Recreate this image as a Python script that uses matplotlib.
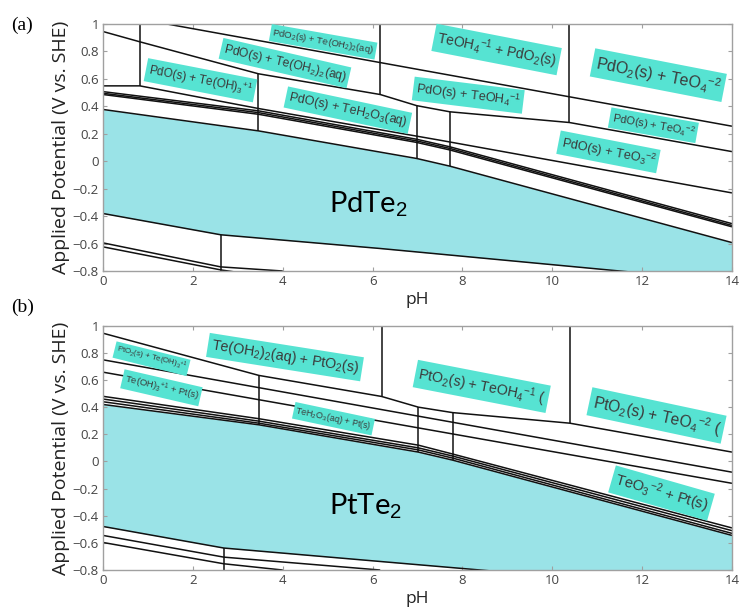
import numpy as np
import matplotlib
matplotlib.use('Agg')
import matplotlib.pyplot as plt
from matplotlib.ticker import FuncFormatter

plt.rcParams['mathtext.fontset'] = 'custom'
plt.rcParams['mathtext.rm'] = 'Liberation Sans'
plt.rcParams['mathtext.it'] = 'Liberation Sans:italic'
plt.rcParams['mathtext.bf'] = 'Liberation Sans:bold'

# ---------------- Panel (a): Pd-Te ----------------
a_l1_ph = [1.42, 14]
a_l1_E = [1.0, 0.255]
a_l2_ph = [0, 0.82, 3.46, 6.17, 6.98, 7.72, 10.38, 14]
a_l2_E = [0.945, 0.87, 0.637, 0.486, 0.405, 0.36, 0.282, 0.07]
a_l3_ph = [0, 0.82, 3.46, 7.5, 14]
a_l3_E = [0.549, 0.549, 0.384, 0.153, -0.231]
a_t_ph = [0, 3.46, 6.98, 7.72, 14]
a_t1_E = [0.507, 0.367, 0.160, 0.105, -0.455]
a_t2_E = [0.495, 0.354, 0.148, 0.093, -0.468]
a_t3_E = [0.486, 0.342, 0.137, 0.082, -0.478]
a_top_ph = [0, 3.46, 6.98, 7.72, 14]
a_top_E = [0.377, 0.221, 0.02, -0.036, -0.593]
a_bot_ph = [0, 2.62, 6.17, 11.5, 14]
a_bot_E = [-0.381, -0.536, -0.636, -0.80, -0.875]
a_b1_ph = [0, 2.62, 4.0]
a_b1_E = [-0.595, -0.77, -0.80]
a_b2_ph = [0, 2.62, 3.0]
a_b2_E = [-0.624, -0.792, -0.81]
a_v_ph = [0.82, 3.46, 6.17, 6.98, 7.72, 10.38, 2.62]
a_v_lo = [0.549, 0.221, 0.486, 0.02, -0.036, 0.282, -0.80]
a_v_hi = [1.0, 0.637, 1.0, 0.405, 0.36, 1.0, -0.536]

# ---------------- Panel (b): Pt-Te ----------------
b_l1_ph = [0, 3.47, 6.2, 7.02, 7.78, 10.39, 14]
b_l1_E = [0.945, 0.634, 0.479, 0.40, 0.36, 0.282, 0.069]
b_l2_ph = [0, 14]
b_l2_E = [0.749, -0.079]
b_l3_ph = [0, 14]
b_l3_E = [0.658, -0.161]
b_t_ph = [0, 3.47, 7.02, 7.78, 14]
b_t1_E = [0.48, 0.315, 0.12, 0.055, -0.49]
b_t2_E = [0.46, 0.297, 0.10, 0.040, -0.51]
b_t3_E = [0.44, 0.282, 0.085, 0.025, -0.53]
b_top_ph = [0, 3.47, 7.02, 7.78, 14]
b_top_E = [0.42, 0.27, 0.069, 0.01, -0.545]
b_bot_ph = [0, 2.69, 6.17, 8.4, 14]
b_bot_E = [-0.479, -0.638, -0.737, -0.80, -0.957]
b_b1_ph = [0, 2.69, 6.17]
b_b1_E = [-0.545, -0.705, -0.80]
b_b2_ph = [0, 2.69, 4.0]
b_b2_E = [-0.597, -0.754, -0.80]
b_v_ph = [3.47, 6.2, 7.02, 7.78, 10.39, 2.69]
b_v_lo = [0.27, 0.479, 0.069, 0.01, 0.282, -0.80]
b_v_hi = [0.634, 1.0, 0.40, 0.36, 1.0, -0.638]

x_ticks = [0, 2, 4, 6, 8, 10, 12, 14]
y_ticks = [-0.8, -0.6, -0.4, -0.2, 0, 0.2, 0.4, 0.6, 0.8, 1]

# region labels: text, pH, E, rotation, fontsize
a_labels = [
    ("PdO$_2$(s) + Te(OH$_2$)$_2$(aq)", 4.9, 0.87, -10, 6.8),
    ("PdO(s) + Te(OH$_2$)$_2$(aq)", 4.05, 0.715, -13, 8.7),
    ("PdO(s) + Te(OH)$_3$$^{+1}$", 2.17, 0.59, -11, 8.5),
    ("PdO(s) + TeH$_2$O$_3$(aq)", 5.45, 0.372, -12, 9.0),
    ("TeOH$_4$$^{-1}$ + PdO$_2$(s)", 8.76, 0.814, -11, 10.0),
    ("PdO(s) + TeOH$_4$$^{-1}$", 8.13, 0.481, -7, 9.1),
    ("PdO$_2$(s) + TeO$_4$$^{-2}$", 12.36, 0.627, -11, 11.4),
    ("PdO(s) + TeO$_4$$^{-2}$", 12.25, 0.262, -10, 7.9),
    ("PdO(s) + TeO$_3$$^{-2}$", 11.25, 0.068, -11, 9.1),
]
b_labels = [
    ("PtO$_2$(s) + Te(OH)$_3$$^{+1}$", 1.08, 0.757, -14, 5.7),
    ("Te(OH)$_3$$^{+1}$ + Pt(s)", 1.3, 0.543, -13, 6.8),
    ("Te(OH$_2$)$_2$(aq) + PtO$_2$(s)", 4.05, 0.769, -9, 10.3),
    ("TeH$_2$O$_3$(aq) + Pt(s)", 5.13, 0.315, -12, 6.4),
    ("PtO$_2$(s) + TeOH$_4$$^{-1}$ (", 8.43, 0.553, -11, 10.2),
    ("PtO$_2$(s) + TeO$_4$$^{-2}$ (", 12.32, 0.339, -12, 11.2),
    ("TeO$_3$$^{-2}$ + Pt(s)", 12.43, -0.233, -16, 10.6),
]

FILL = '#9AE3E7'
BOX = '#56E3D2'
TXT = '#3a3a3a'
GRAY = '#a0a0a0'

fig = plt.figure(figsize=(7.4, 6.13), dpi=100)
ax_a = fig.add_axes([0.1392, 0.5579, 0.85, 0.403])
ax_b = fig.add_axes([0.1392, 0.0701, 0.85, 0.3985])


def fmt(v, pos):
    s = f"{v:g}"
    return s.replace('-', '\u2212')


def draw(ax, top, bot, lines, vph, vlo, vhi, labels, big, big_xy):
    grid = np.linspace(0, 14, 600)
    ax.fill_between(grid, np.interp(grid, *bot), np.interp(grid, *top),
                    color=FILL, lw=0, zorder=1)
    for ph, e in lines + [top, bot]:
        ax.plot(ph, e, color='#111111', lw=1.1, zorder=2, solid_capstyle='butt')
    ax.vlines(vph, vlo, vhi, color='#111111', lw=1.1, zorder=2)
    for t, x, y, r, s in labels:
        ax.text(x, y, t, rotation=r, rotation_mode='anchor', ha='center', va='center',
                fontsize=s, color=TXT, family='Liberation Sans', zorder=4,
                bbox=dict(boxstyle='square,pad=0.22', fc=BOX, ec='none'))
    ax.text(big_xy[0], big_xy[1], big, fontsize=21, family='Lato', color='black',
            ha='center', va='center', zorder=4)
    ax.set_xlim(0, 14)
    ax.set_ylim(-0.8, 1.0)
    ax.set_xticks(x_ticks)
    ax.set_yticks(y_ticks)
    ax.xaxis.set_major_formatter(FuncFormatter(fmt))
    ax.yaxis.set_major_formatter(FuncFormatter(fmt))
    ax.tick_params(direction='in', length=3, color=GRAY, top=True, right=True,
                   labelsize=9.5, labelcolor='#444444', pad=3)
    for lab in ax.get_xticklabels() + ax.get_yticklabels():
        lab.set_family('Open Sans')
    for sp in ax.spines.values():
        sp.set_color(GRAY)
        sp.set_linewidth(1.0)
    ax.set_xlabel('pH', fontsize=12.5, family='Open Sans', color='#222222', labelpad=3)
    ax.set_ylabel('Applied Potential (V vs. SHE)', fontsize=14, family='Open Sans',
                  color='#222222', labelpad=2)


draw(ax_a, (a_top_ph, a_top_E), (a_bot_ph, a_bot_E),
     [(a_l1_ph, a_l1_E), (a_l2_ph, a_l2_E), (a_l3_ph, a_l3_E),
      (a_t_ph, a_t1_E), (a_t_ph, a_t2_E), (a_t_ph, a_t3_E),
      (a_b1_ph, a_b1_E), (a_b2_ph, a_b2_E)],
     a_v_ph, a_v_lo, a_v_hi, a_labels, 'PdTe$_2$', (5.9, -0.31))

draw(ax_b, (b_top_ph, b_top_E), (b_bot_ph, b_bot_E),
     [(b_l1_ph, b_l1_E), (b_l2_ph, b_l2_E), (b_l3_ph, b_l3_E),
      (b_t_ph, b_t1_E), (b_t_ph, b_t2_E), (b_t_ph, b_t3_E),
      (b_b1_ph, b_b1_E), (b_b2_ph, b_b2_E)],
     b_v_ph, b_v_lo, b_v_hi, b_labels, 'PtTe$_2$', (5.85, -0.33))

fig.text(22 / 740, 1 - 25 / 613, '(a)', fontsize=14, family='Liberation Serif',
         ha='center', va='center')
fig.text(23 / 740, 1 - 307 / 613, '(b)', fontsize=14, family='Liberation Serif',
         ha='center', va='center')

fig.savefig('out.png', dpi=100)
